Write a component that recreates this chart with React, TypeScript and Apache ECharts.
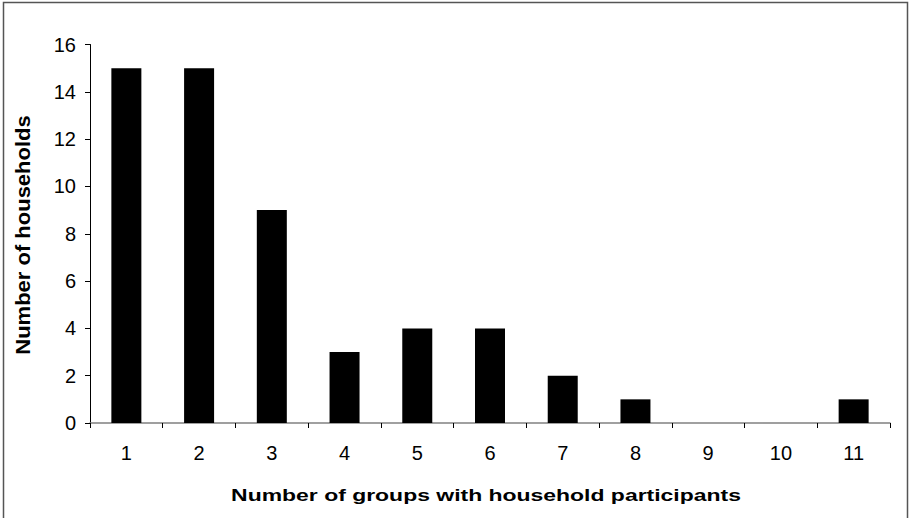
import React, { useEffect, useRef } from "react";
import * as echarts from "echarts";

const categories = ["1", "2", "3", "4", "5", "6", "7", "8", "9", "10", "11"];
const households = [15, 15, 9, 3, 4, 4, 2, 1, 0, 0, 1];
const yTicks = { min: 0, max: 16, interval: 2 };
const xTitle = "Number of groups with household participants";
const yTitle = "Number of households";

export default function App() {
  const ref = useRef<HTMLDivElement>(null);
  useEffect(() => {
    if (!ref.current) return;
    const chart = echarts.init(ref.current, null, { renderer: "svg" });
    const font = "'Liberation Sans', Arial, sans-serif";
    chart.setOption({
      animation: false,
      backgroundColor: "#ffffff",
      textStyle: { fontFamily: font },
      graphic: [
        {
          type: "polyline",
          shape: { points: [[3.5, 530], [3.5, 2.5], [907.5, 2.5], [907.5, 530]] },
          style: { fill: "none", stroke: "#555555", lineWidth: 1.5 },
          silent: true,
        },
        {
          type: "text",
          x: 23,
          y: 235,
          rotation: Math.PI / 2,
          scaleX: 1.1,
          style: {
            text: yTitle,
            fill: "#000",
            font: `bold 20px ${font}`,
            align: "center",
            verticalAlign: "middle",
          },
        },
        {
          type: "text",
          x: 486,
          y: 495,
          scaleX: 1.35,
          style: {
            text: xTitle,
            fill: "#000",
            font: `bold 17px ${font}`,
            align: "center",
            verticalAlign: "middle",
          },
        },
      ],
      grid: { left: 90, right: 20, top: 44.5, bottom: 95, containLabel: false },
      xAxis: {
        type: "category",
        data: categories,
        axisLine: { lineStyle: { color: "#808080", width: 1.5 } },
        axisTick: { show: true, inside: false, length: 5, lineStyle: { color: "#000" } },
        axisLabel: { fontSize: 20, color: "#000", margin: 20 },
      },
      yAxis: {
        type: "value",
        min: yTicks.min,
        max: yTicks.max,
        interval: yTicks.interval,
        axisLine: { show: true, lineStyle: { color: "#000", width: 1 } },
        axisTick: { show: true, length: 5, lineStyle: { color: "#000" } },
        splitLine: { show: false },
        axisLabel: { fontSize: 20, color: "#000", margin: 14 },
      },
      series: [
        {
          type: "bar",
          data: households,
          barWidth: 30,
          itemStyle: { color: "#000", borderWidth: 0 },
        },
      ],
    });
    return () => chart.dispose();
  }, []);
  return (
    <div
      ref={ref}
      style={{ position: "fixed", left: 0, top: 0, width: 910, height: 518 }}
    />
  );
}
